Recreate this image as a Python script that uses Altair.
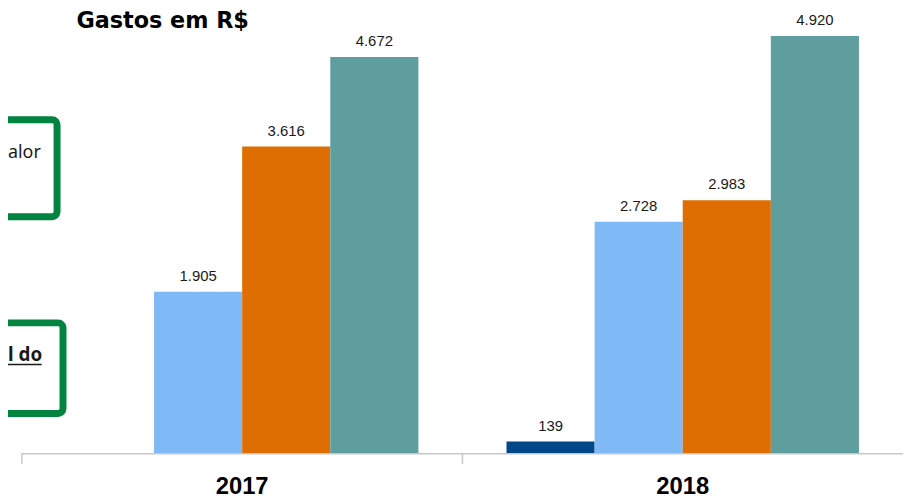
import altair as alt
import pandas as pd

# ---- data ----
years = ["2017", "2018"]
series = ["Série 1", "Série 2", "Série 3", "Série 4"]
values_2017 = [None, 1905, 3616, 4672]
values_2018 = [139, 2728, 2983, 4920]
colors = ["#00478a", "#7fb9f6", "#de6e02", "#5f9e9e"]
title_text = "Gastos em R$"
box_texts = ["alor", "l do"]

rows = []
for yr, vals in zip(years, [values_2017, values_2018]):
    for s, v in zip(series, vals):
        if v is not None:
            rows.append({"ano": yr, "serie": s, "valor": v})
df = pd.DataFrame(rows)
df_years = pd.DataFrame({"ano": years})

W, H = 889, 421
axis_grey = "#c8c8c8"

x_scale = alt.Scale(domain=years, paddingInner=0,
                    paddingOuter=alt.ExprRef(expr="-0.0056"), align=0)

x_enc = alt.X(
    "ano:N",
    sort=years,
    scale=x_scale,
    axis=alt.Axis(
        title=None,
        labelAngle=0,
        labelFont="Liberation Sans",
        labelFontWeight="bold",
        labelFontSize=24,
        labelColor="#000000",
        labelBaseline="alphabetic",
        labelPadding=41,
        domain=False,
        ticks=False,
    ),
)
xoff_enc = alt.XOffset(
    "serie:N",
    scale=alt.Scale(domain=series, paddingInner=0, paddingOuter=0.5),
)
y_enc = alt.Y(
    "valor:Q",
    scale=alt.Scale(domain=[0, 4920], nice=False, zero=True),
    axis=None,
)

base = alt.Chart(df).encode(x=x_enc, xOffset=xoff_enc, y=y_enc)

bars = base.mark_bar().encode(
    color=alt.Color("serie:N", scale=alt.Scale(domain=series, range=colors), legend=None)
)

labels = base.transform_calculate(
    rotulo="replace(format(datum.valor, ','), ',', '.')"
).mark_text(
    dy=-11, baseline="alphabetic", font="Liberation Sans", fontSize=15, color="#1a1a1a"
).encode(text="rotulo:N")

# axis baseline and category-boundary ticks
baseline = alt.Chart(pd.DataFrame({"b": [1]})).mark_rule(
    color=axis_grey, strokeWidth=1.5
).encode(x=alt.value(0), x2=alt.value(W), y=alt.value(H + 0.5))
ticks = alt.Chart(df_years).mark_rule(color=axis_grey, strokeWidth=1.5).encode(
    x=alt.X("ano:N", sort=years, scale=x_scale, bandPosition=0),
    y=alt.value(H),
    y2=alt.value(H + 11),
)

title = alt.Chart(pd.DataFrame({"t": [title_text]})).mark_text(
    align="left", baseline="alphabetic", font="DejaVu Sans", fontWeight="bold",
    fontSize=22.5, color="#000000"
).encode(text="t:N", x=alt.value(55), y=alt.value(-8))

green = "#00843f"
box1 = alt.Chart(pd.DataFrame({"b": [1]})).mark_rect(
    filled=False, stroke=green, strokeWidth=7, cornerRadius=5
).encode(x=alt.value(-120), x2=alt.value(35.5), y=alt.value(84.5), y2=alt.value(182.5))
box2 = alt.Chart(pd.DataFrame({"b": [1]})).mark_rect(
    filled=False, stroke=green, strokeWidth=7, cornerRadius=5
).encode(x=alt.value(-120), x2=alt.value(41.5), y=alt.value(289.5), y2=alt.value(381))

txt1 = alt.Chart(pd.DataFrame({"t": [box_texts[0]]})).mark_text(
    align="left", baseline="alphabetic", font="Noto Sans", fontSize=18, color="#1a1a1a"
).encode(text="t:N", x=alt.value(-14), y=alt.value(123))
txt2 = alt.Chart(pd.DataFrame({"t": [box_texts[1]]})).mark_text(
    align="left", baseline="alphabetic", font="Noto Sans", fontWeight="bold",
    fontSize=19, color="#1a1a1a"
).encode(text="t:N", x=alt.value(-14), y=alt.value(327.5))
underline = alt.Chart(pd.DataFrame({"b": [1]})).mark_rule(
    color="#1a1a1a", strokeWidth=1.5
).encode(x=alt.value(-14), x2=alt.value(20), y=alt.value(331.5))

chart = alt.layer(
    bars, labels, baseline, ticks, title, box1, box2, txt1, txt2, underline
).properties(
    width=W,
    height=H,
    autosize=alt.AutoSizeParams(type="none"),
    padding={"left": 14, "top": 26, "right": 0, "bottom": 44},
).configure_view(stroke=None)

chart.save("out.html", embed_options={"renderer": "svg", "actions": False})
